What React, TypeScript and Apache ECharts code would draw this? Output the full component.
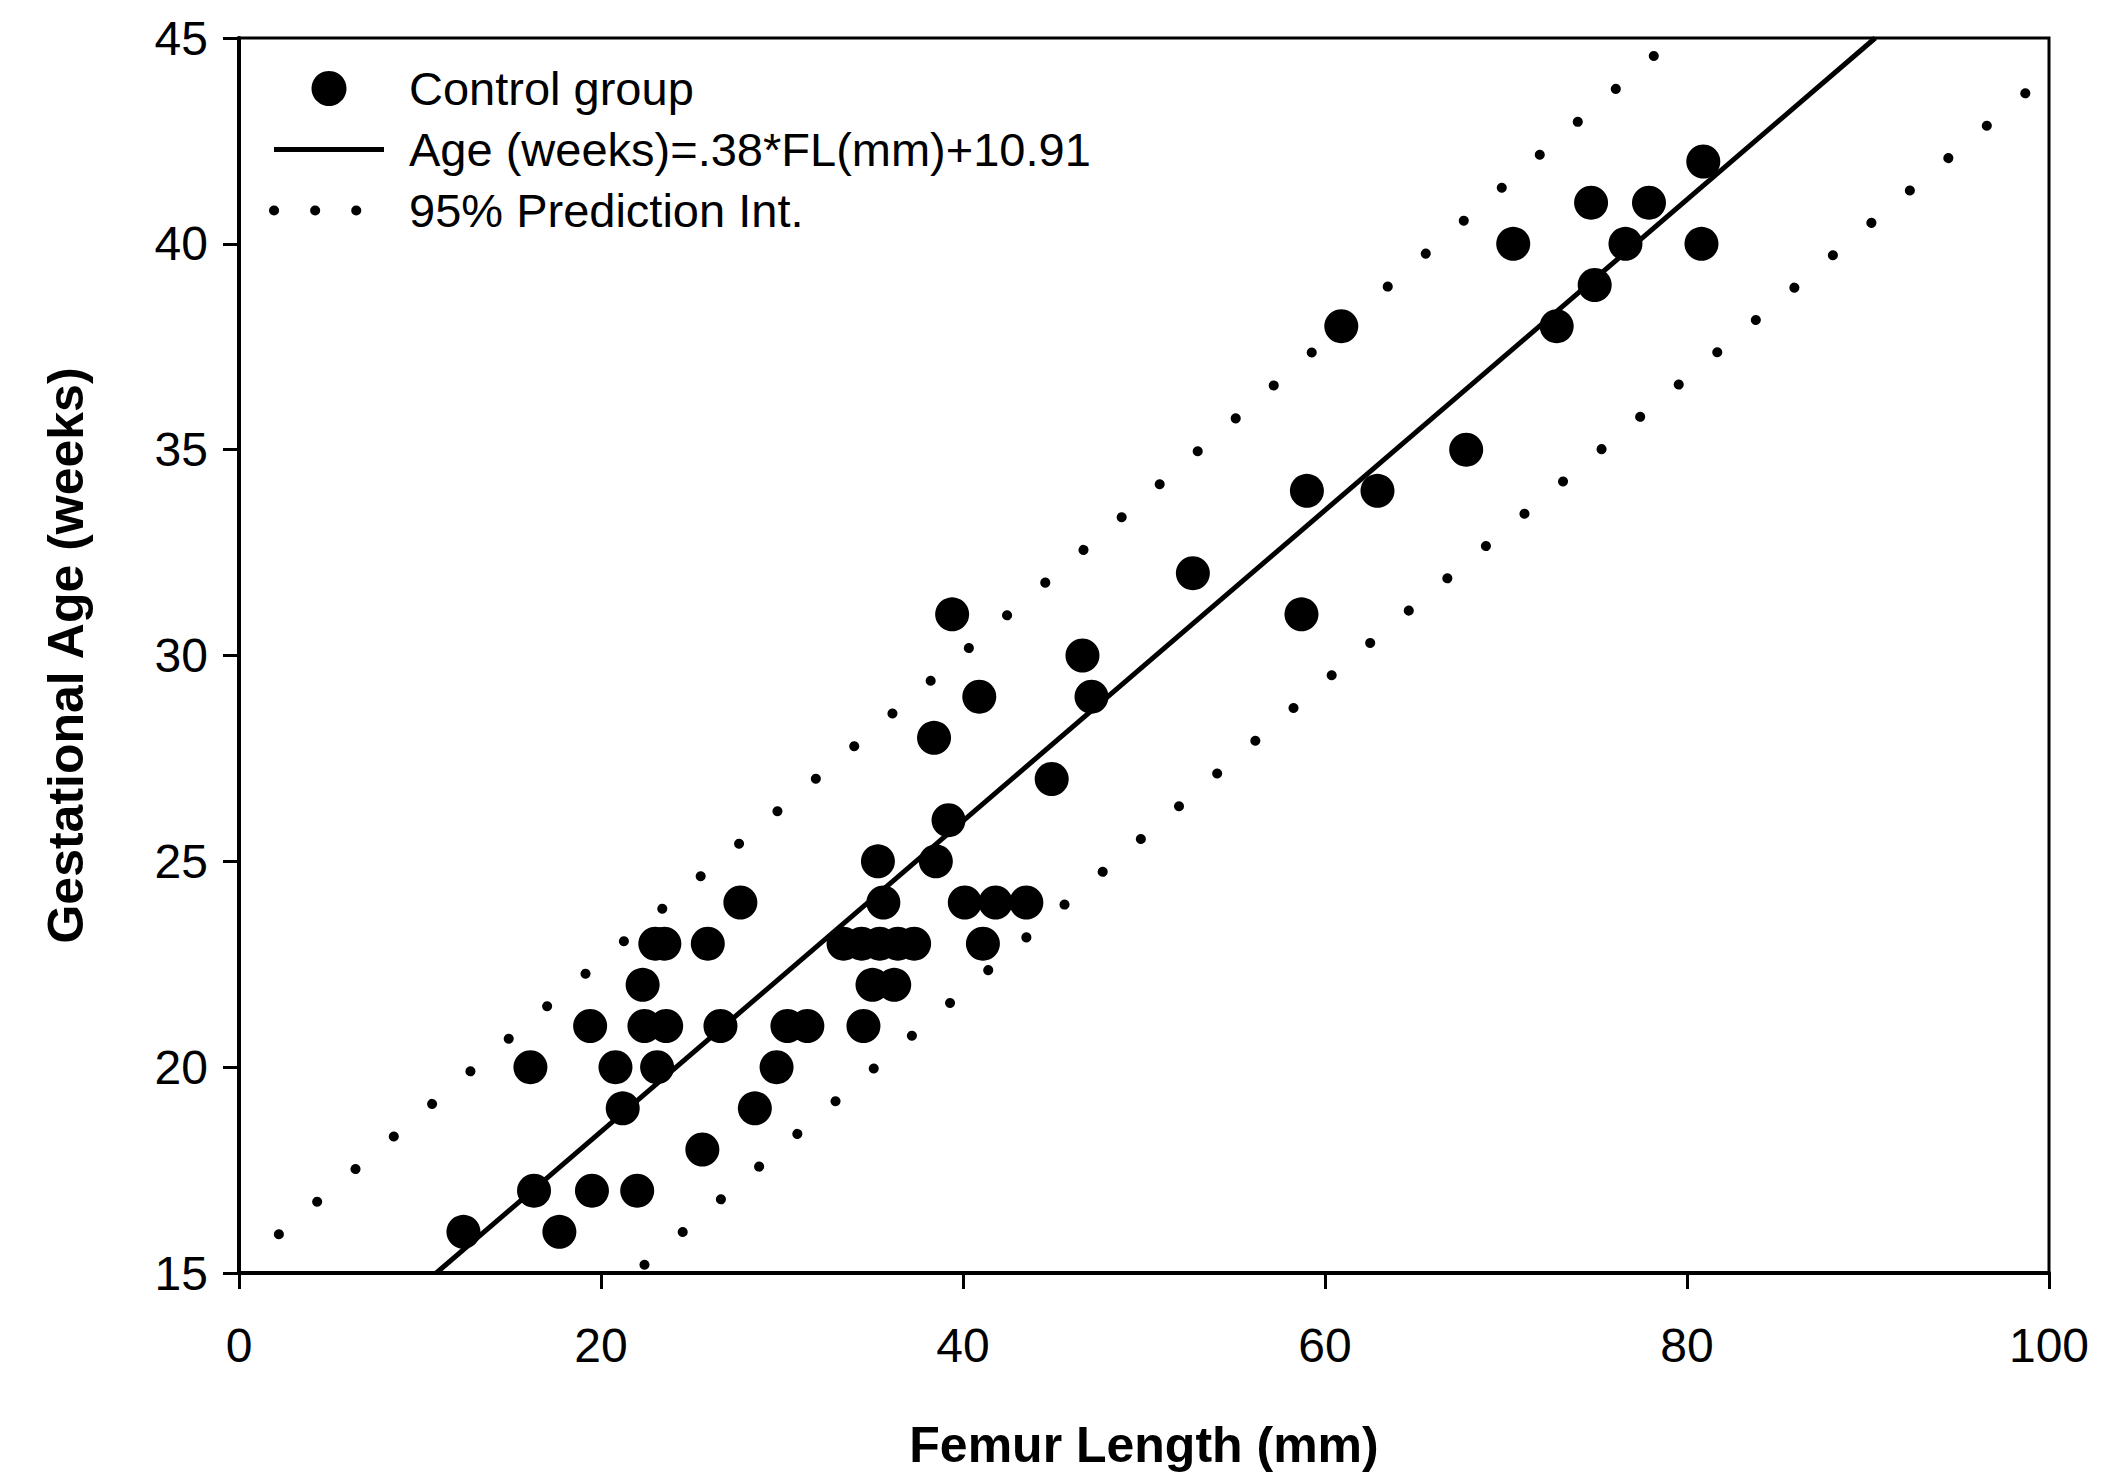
import React, { useEffect, useRef } from "react";
import * as echarts from "echarts";

// Scatter data
const femurLength = [
  12.4, 16.3, 17.7, 19.5, 22.0, 25.6, 21.2, 28.5,
  16.1, 20.8, 23.1, 29.7,
  19.4, 22.4, 23.6, 26.6, 30.3, 31.4, 34.5,
  22.3, 35.0, 36.2,
  23.0, 23.5, 25.9, 33.4, 34.4, 35.4, 36.4, 37.3, 41.1,
  27.7, 35.6, 40.1, 41.8, 43.5,
  35.3, 38.5,
  39.2,
  44.9,
  38.4,
  40.9, 47.1,
  46.6,
  39.4, 58.7,
  52.7,
  59.0, 62.9,
  67.8,
  60.9, 72.8,
  74.9,
  70.4, 76.6, 80.8,
  74.7, 77.9,
  80.9,
];
const gestAge = [
  16, 17, 16, 17, 17, 18, 19, 19,
  20, 20, 20, 20,
  21, 21, 21, 21, 21, 21, 21,
  22, 22, 22,
  23, 23, 23, 23, 23, 23, 23, 23, 23,
  24, 24, 24, 24, 24,
  25, 25,
  26,
  27,
  28,
  29, 29,
  30,
  31, 31,
  32,
  34, 34,
  35,
  38, 38,
  39,
  40, 40, 40,
  41, 41,
  42,
];

// Regression line end points (where it meets the frame)
const fitX = [10.9, 90.4];
const fitY = [15, 45];

// 95% prediction interval
const upperX = [2.2, 14.9, 34.0, 48.9, 78.6, 79.3];
const upperY = [15.94, 20.69, 27.8, 33.41, 44.73, 45.0];
const lowerX = [22.4, 35.1, 49.9, 60.5, 86.0, 98.7];
const lowerY = [15.2, 19.98, 25.57, 29.57, 38.96, 43.66];

const xTicks = { min: 0, max: 100, interval: 20 };
const yTicks = { min: 15, max: 45, interval: 5 };

const zip = (a: number[], b: number[]) => a.map((v, i) => [v, b[i]]);

const FONT = "'Liberation Sans', Arial, Helvetica, sans-serif";

export default function App() {
  const ref = useRef<HTMLDivElement>(null);
  useEffect(() => {
    if (!ref.current) return;
    const chart = echarts.init(ref.current, null, { renderer: "svg" });
    const dotStyle = {
      color: "#000",
      width: 10,
      type: [0.1, 50.2] as any,
      cap: "round" as any,
    };
    chart.setOption({
      animation: false,
      backgroundColor: "#fff",
      textStyle: { fontFamily: FONT, color: "#000" },
      grid: {
        left: 239,
        right: 56,
        top: 38,
        bottom: 197,
        show: true,
        borderColor: "#000",
        borderWidth: 3,
        backgroundColor: "transparent",
      },
      legend: {
        orient: "vertical",
        left: 264,
        top: 60,
        itemWidth: 110,
        itemHeight: 35,
        itemGap: 14,
        selectedMode: false,
        textStyle: {
          fontFamily: FONT,
          fontSize: 47,
          color: "#000",
          padding: [0, 0, 0, 20],
        },
        data: [
          { name: "Control group", itemStyle: { opacity: 1 } },
          {
            name: "Age (weeks)=.38*FL(mm)+10.91",
            itemStyle: { opacity: 0 },
            lineStyle: { width: 5, color: "#000" },
          },
          {
            name: "95% Prediction Int.",
            itemStyle: { opacity: 0 },
            lineStyle: { type: [0.1, 41] as any, width: 10, cap: "round", color: "#000" },
          },
        ],
      },
      xAxis: {
        type: "value",
        min: xTicks.min,
        max: xTicks.max,
        interval: xTicks.interval,
        name: "Femur Length (mm)",
        nameLocation: "middle",
        nameGap: 147,
        nameTextStyle: { fontFamily: FONT, fontSize: 50, fontWeight: "bold", color: "#000" },
        axisLine: { show: true, onZero: false, lineStyle: { color: "#000", width: 4 } },
        axisTick: { show: true, inside: false, length: 16, lineStyle: { color: "#000", width: 3 } },
        axisLabel: { fontFamily: FONT, fontSize: 48, color: "#000", margin: 48 },
        splitLine: { show: false },
      },
      yAxis: {
        type: "value",
        min: yTicks.min,
        max: yTicks.max,
        interval: yTicks.interval,
        name: "Gestational Age (weeks)",
        nameLocation: "middle",
        nameGap: 148,
        nameTextStyle: { fontFamily: FONT, fontSize: 50, fontWeight: "bold", color: "#000" },
        axisLine: { show: true, onZero: false, lineStyle: { color: "#000", width: 4 } },
        axisTick: { show: true, inside: false, length: 16, lineStyle: { color: "#000", width: 3 } },
        axisLabel: { fontFamily: FONT, fontSize: 48, color: "#000", margin: 31 },
        splitLine: { show: false },
      },
      series: [
        {
          name: "Control group",
          type: "scatter",
          symbol: "circle",
          symbolSize: 34,
          itemStyle: { color: "#000", opacity: 1 },
          data: zip(femurLength, gestAge),
          z: 3,
        },
        {
          name: "Age (weeks)=.38*FL(mm)+10.91",
          type: "line",
          symbol: "none",
          showSymbol: false,
          clip: true,
          lineStyle: { color: "#000", width: 5 },
          itemStyle: { color: "#000" },
          data: zip(fitX, fitY),
          z: 4,
        },
        {
          name: "95% Prediction Int.",
          type: "line",
          symbol: "none",
          showSymbol: false,
          clip: true,
          lineStyle: dotStyle,
          itemStyle: { color: "#000" },
          data: zip(upperX, upperY),
          z: 2,
        },
        {
          name: "95% Prediction Int.",
          type: "line",
          symbol: "none",
          showSymbol: false,
          clip: true,
          lineStyle: dotStyle,
          itemStyle: { color: "#000" },
          data: zip(lowerX, lowerY),
          z: 2,
        },
      ],
    });
    return () => chart.dispose();
  }, []);
  return (
    <div
      ref={ref}
      style={{ position: "fixed", left: 0, top: 0, width: 2105, height: 1475, background: "#fff" }}
    />
  );
}
